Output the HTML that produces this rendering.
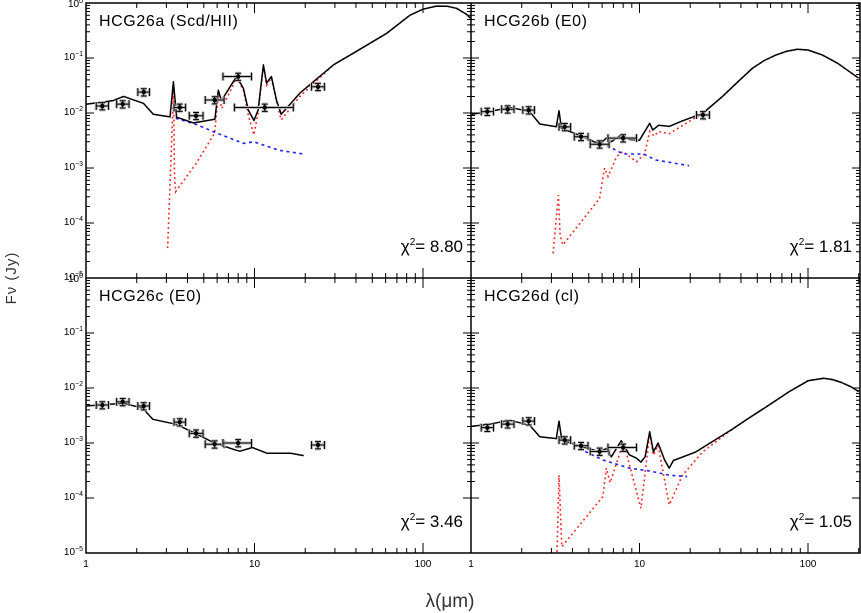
<!DOCTYPE html>
<html><head><meta charset="utf-8"><style>
html,body{margin:0;padding:0;background:#fff;}
svg{display:block;font-family:"Liberation Sans",sans-serif;}
</style></head><body>
<svg id="chart" width="861" height="613" viewBox="0 0 861 613" xmlns="http://www.w3.org/2000/svg"></svg>
<script>
// Shared band data (micron)
const bandLam = [1.25, 1.65, 2.2, 3.6, 4.5, 5.8, 8.0, 11.5, 23.8];
const bandLo  = [1.15, 1.52, 2.03, 3.33, 4.1, 5.1, 6.5, 7.6, 21.8];
const bandHi  = [1.36, 1.80, 2.38, 3.9, 4.95, 6.6, 9.6, 17.0, 26.0];

// Panel a
const aObs = [0.0134, 0.0145, 0.024, 0.0126, 0.0089, 0.0172, 0.046, 0.0126, 0.030];
const aTotLam = [1.0,1.45,1.67,2.19,2.51,3.15,3.3,3.45,4.35,5.82,6.1,6.36,7.48,7.84,8.59,9.19,9.93,10.5,11.3,11.8,12.6,13.5,14.4,18.6,29.4,40,60.8,83.7,100,120,140,158,180,198];
const aTotF = [0.0144,0.0168,0.020,0.015,0.0095,0.0085,0.037,0.0084,0.0066,0.0077,0.026,0.0168,0.037,0.046,0.028,0.0113,0.0073,0.0113,0.075,0.035,0.046,0.017,0.0095,0.023,0.075,0.13,0.28,0.60,0.77,0.88,0.87,0.80,0.63,0.48];
const aDustLam = [3.05,3.25,3.3,3.35,3.4,4.5,5.8,6.1,6.4,7.5,7.84,8.6,9.2,9.9,10.5,11.3,11.8,12.6,13.5,14.4,18.6,29.4,40,60.8,83.7,100,120,140,158,180,198];
const aDustF = [3.5e-5,0.006,0.035,0.0008,3.7e-4,1.2e-3,0.0043,0.022,0.012,0.033,0.044,0.026,0.009,0.004,0.01,0.07,0.032,0.044,0.016,0.0075,0.02,0.075,0.13,0.28,0.60,0.77,0.88,0.87,0.80,0.63,0.48];
const aStarLam = [3.4,4.5,6.0,8.6,9.9,11.8,14,19.5];
const aStarF = [0.008,0.0062,0.0043,0.0028,0.003,0.0025,0.0021,0.0018];

// Panel b
const bObs = [0.0106, 0.0117, 0.0113, 0.0056, 0.0037, 0.0027, 0.0035, null, 0.0092];
const bTotLam = [1.01,1.29,1.70,2.23,2.56,3.21,3.33,3.44,4.62,5.8,6.35,6.8,7.8,8.7,10.0,11.5,12.0,13.0,15.0,18.0,23.7,31.1,38,46.8,55,64.4,75,86.4,100,122,150,200];
const bTotF = [0.0095,0.0106,0.0127,0.0106,0.0063,0.0056,0.011,0.0053,0.0037,0.0027,0.0035,0.003,0.004,0.0033,0.0032,0.0065,0.0049,0.006,0.0057,0.0072,0.0098,0.020,0.036,0.065,0.09,0.113,0.133,0.144,0.14,0.113,0.08,0.043];
const bDustLam = [3.07,3.3,3.38,3.51,5.8,6.2,6.5,7.3,7.95,9.6,10.7,11.5,12.2,13.0,15.0,18.9,23.7,31.1,38,46.8,55,64.4,75,86.4,100,122,150,200];
const bDustF = [2.8e-5,3.2e-4,6e-5,4e-5,2.8e-4,0.001,7e-4,0.0016,0.002,0.0013,0.0018,0.0046,0.0038,0.0046,0.0042,0.0065,0.0098,0.020,0.036,0.065,0.09,0.113,0.133,0.144,0.14,0.113,0.08,0.043];
const bStarLam = [4.6,5.8,6.5,8.0,10.6,12.5,19.7];
const bStarF = [0.0037,0.0027,0.0025,0.0018,0.0018,0.0014,0.0011];

// Panel c
const cObs = [0.0049, 0.0056, 0.0047, 0.0024, 0.0015, 0.00095, 0.001, null, 0.00092];
const cTotLam = [1.0,1.67,2.17,2.49,3.4,4.26,5.77,7.78,8.2,9.7,11.9,16.4,19.6];
const cTotF = [0.0047,0.0053,0.0043,0.0027,0.0022,0.0016,0.001,7.4e-4,7.1e-4,8.3e-4,6.5e-4,6.5e-4,5.9e-4];

// Panel d
const dObs = [0.0019, 0.0022, 0.0025, 0.00113, 0.00089, 0.0007, 0.00083, null, null];
const dTotLam = [1.0,1.29,1.70,2.23,2.56,3.21,3.33,3.46,4.62,5.8,6.35,6.8,7.8,8.7,9.6,10.2,10.8,11.5,12.1,12.9,14.1,15.0,15.9,21.6,35.7,45,58.8,77.3,100,124,140,158,180,200];
const dTotF = [0.0020,0.0022,0.0026,0.0021,0.0013,0.0012,0.0025,0.00113,8.5e-4,6.9e-4,7.9e-4,5.6e-4,0.0011,6.1e-4,5.3e-4,4.5e-4,5.6e-4,0.0016,6.9e-4,0.001,4.9e-4,3.5e-4,4.8e-4,6.9e-4,0.0018,0.0029,0.0049,0.0086,0.0135,0.015,0.0142,0.0126,0.0105,0.0086];
const dDustLam = [3.24,3.33,3.46,6.06,6.35,6.7,7.8,8.3,10.2,11.5,12.1,12.9,15.0,18.0,23.7,35.7,45,58.8,77.3,100,124,140,158,180,200];
const dDustF = [1.05e-5,2.6e-4,1.3e-5,1.05e-4,3.5e-4,1.9e-4,7.9e-4,7e-4,6.5e-5,0.0015,6e-4,9e-4,7.5e-5,2.6e-4,6.9e-4,0.0018,0.0029,0.0049,0.0086,0.0135,0.015,0.0142,0.0126,0.0105,0.0086];
const dStarLam = [4.4,6.06,8.7,11.5,15,19.2];
const dStarF = [7.9e-4,4.9e-4,3.5e-4,3.1e-4,2.6e-4,2.45e-4];

const panelNames = ["HCG26a  (Scd/HII)","HCG26b  (E0)","HCG26c  (E0)","HCG26d  (cl)"];
const chiVals = ["8.80","1.81","3.46","1.05"];
const yTickExp = [0,-1,-2,-3,-4,-5];
const xTickVals = [1,10,100];

const NS="http://www.w3.org/2000/svg";
const svg=document.getElementById('chart');
function mk(tag,attrs,parent){const e=document.createElementNS(NS,tag);for(const k in attrs)e.setAttribute(k,attrs[k]);(parent||svg).appendChild(e);return e;}
const DEC_X=168.5, DEC_Y=55;
const panels=[
 {x0:86,y0:3,x1:471,y1:278},
 {x0:471,y0:3,x1:860,y1:278},
 {x0:86,y0:278,x1:471,y1:553},
 {x0:471,y0:278,x1:860,y1:553}];
function X(p,l){return p.x0+DEC_X*Math.log10(l);}
function Y(p,f){return p.y0-DEC_Y*Math.log10(f);}

const defs=mk('defs',{});
panels.forEach((p,i)=>{const cp=mk('clipPath',{id:'clip'+i},defs);mk('rect',{x:p.x0,y:p.y0,width:p.x1-p.x0,height:p.y1-p.y0},cp);});

function line(p,i,lams,fs,style,name){
  const d=lams.map((l,k)=>(k?'L':'M')+X(p,l).toFixed(1)+','+Y(p,fs[k]).toFixed(1)).join(' ');
  const e=mk('path',Object.assign({d:d,fill:'none','clip-path':'url(#clip'+i+')'},style));
  
  
}
const RED={stroke:'#ff2020','stroke-width':1.6,'stroke-dasharray':'1.8,3'};
const BLUE={stroke:'#2020ff','stroke-width':1.6,'stroke-dasharray':'3,3.5'};
const BLK={stroke:'#000','stroke-width':1.5,'stroke-linejoin':'round'};

function obs(p,i,vals){
  const g=mk('g',{});
  
  
  vals.forEach((v,k)=>{
    if(v==null)return;
    const cx=X(p,bandLam[k]),cy=Y(p,v),xl=X(p,bandLo[k]),xh=X(p,bandHi[k]);
    const yl=Y(p,v*0.85),yh=Y(p,v*1.15);
    const d=`M${xl},${cy}H${xh}M${xl},${cy-4}V${cy+4}M${xh},${cy-4}V${cy+4}M${cx},${yh}V${yl}M${cx-3},${yh}H${cx+3}M${cx-3},${yl}H${cx+3}`;
    mk('path',{d:d,stroke:'#bbb','stroke-width':3,fill:'none'},g);
    mk('path',{d:d,stroke:'#000','stroke-width':1,fill:'none'},g);
    const c=mk('circle',{cx:cx,cy:cy,r:2.2,fill:'#000'},g);
    
    
  });
}

// axes / ticks
panels.forEach((p,i)=>{
  const g=mk('g',{stroke:'#000','stroke-width':1,fill:'none'});
  
  
  let d='';
  for(let e=0;e>=-5;e--){
    for(let m=1;m<10;m++){
      if(e===-5&&m>1)break;
      const y=Y(p,m*Math.pow(10,e));
      const L=m===1?8:4;
      d+=`M${p.x0},${y}h${L}M${p.x1},${y}h${-L}`;
    }
  }
  for(let e=0;e<=2;e++){
    for(let m=1;m<10;m++){
      const x=X(p,m*Math.pow(10,e));
      if(x>p.x1)break;
      const L=m===1?10:5;
      d+=`M${x},${p.y1}v${-L}M${x},${p.y0}v${L}`;
    }
  }
  mk('path',{d:d},g);
});
mk('rect',{x:86,y:3,width:774,height:550,fill:'none',stroke:'#000','stroke-width':1.5});
mk('path',{d:'M471,3V553M86,278H860',stroke:'#000','stroke-width':1.5});

// y tick labels
[panels[0],panels[2]].forEach((p,j)=>{
  yTickExp.forEach(e=>{
    const t=mk('text',{x:p.x0-3,y:Y(p,Math.pow(10,e))+(e===0?4:2),'text-anchor':'end','font-size':10});
    
    
    t.textContent='10';
    const s=mk('tspan',{dy:-4,'font-size':7},t);s.textContent=e===0?'0':'−'+(-e);
  });
});
// x tick labels
[panels[2],panels[3]].forEach(p=>{
  xTickVals.forEach(v=>{
    const t=mk('text',{x:X(p,v),y:567,'text-anchor':'middle','font-size':10});
    
    
    t.textContent=v;
  });
});

// series
line(panels[0],0,aDustLam,aDustF,RED,'dust-model-a');
line(panels[0],0,aStarLam,aStarF,BLUE,'stellar-model-a');
line(panels[0],0,aTotLam,aTotF,BLK,'total-model-a');
obs(panels[0],0,aObs);
line(panels[1],1,bDustLam,bDustF,RED,'dust-model-b');
line(panels[1],1,bStarLam,bStarF,BLUE,'stellar-model-b');
line(panels[1],1,bTotLam,bTotF,BLK,'total-model-b');
obs(panels[1],1,bObs);
line(panels[2],2,cTotLam,cTotF,BLK,'total-model-c');
obs(panels[2],2,cObs);
line(panels[3],3,dDustLam,dDustF,RED,'dust-model-d');
line(panels[3],3,dStarLam,dStarF,BLUE,'stellar-model-d');
line(panels[3],3,dTotLam,dTotF,BLK,'total-model-d');
obs(panels[3],3,dObs);

// labels
panels.forEach((p,i)=>{
  const t=mk('text',{x:p.x0+13,y:p.y0+23,'font-size':16,'letter-spacing':0.6,'xml:space':'preserve'});
  
  
  t.textContent=panelNames[i];
  const c=mk('text',{x:p.x1-8,y:p.y1-26,'font-size':17,'text-anchor':'end'});
  
  
  c.textContent='χ';
  const s=mk('tspan',{dy:-7,'font-size':10},c);s.textContent='2';
  const s2=mk('tspan',{dy:7},c);s2.textContent='= '+chiVals[i];
});
const yt=mk('text',{x:0,y:0,'font-size':15,'text-anchor':'middle',transform:'translate(16,278) rotate(-90)',fill:'#333','letter-spacing':1});


yt.textContent='Fν  (Jy)';
const xt=mk('text',{x:450,y:607,'font-size':19,'text-anchor':'middle',fill:'#333'});


xt.textContent='λ(μm)';
</script>
</body></html>
